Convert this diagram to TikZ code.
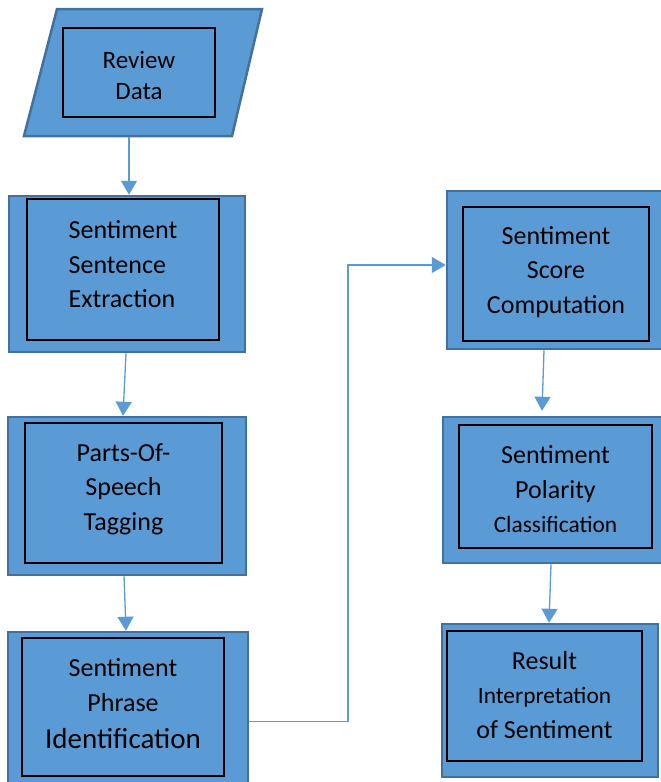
\documentclass[tikz,border=0pt]{standalone}
\usepackage{fontspec}
\setmainfont{Carlito}
\usetikzlibrary{positioning, arrows.meta}
\definecolor{xblue}{HTML}{5B9BD5}
\definecolor{xblueline}{HTML}{41719C}
\tikzset{
	outerbox/.style={draw=xblueline, fill=xblue, line width=2.5pt, inner sep=0pt},
	innerbox/.style={draw=black, line width=1.2pt, inner sep=0pt},
	steptext/.style={align=center, inner sep=0pt, font=\fontsize{26}{34.5}\selectfont},
	flow/.style={draw=xblue, line width=1.3pt, -{Triangle[width=16pt,length=14pt]}},
}

\begin{document}
\begin{tikzpicture}[x=1pt, y=-1pt]
	\useasboundingbox (0,0) rectangle (661,782);
	% left column
	\draw[outerbox, line join=miter] (24,136) -- (232,136) -- (262,9) -- (57,9) -- cycle;
	\coordinate (reviewbase) at (129,137);
	\node[innerbox, minimum width=152pt, minimum height=89pt] (reviewin) at (139,72.5) {};
	\node[steptext, font=\fontsize{25}{31}\selectfont] (reviewtxt) at (139,75) {Review\\Data};
	\node[outerbox, minimum width=236pt, minimum height=156pt] (extract) at (127,274) {};
	\node[innerbox, minimum width=192pt, minimum height=141pt] (extractin) at (123,269.5) {};
	\node[steptext, align=left] (extracttxt) at (123,264.5) {Sentiment\\Sentence\\Extraction};
	\node[outerbox, minimum width=238pt, minimum height=158pt] (tagging) at (127,496) {};
	\node[innerbox, minimum width=197pt, minimum height=140pt] (taggingin) at (123.5,493) {};
	\node[steptext] (taggingtxt) at (123.5,489) {Parts-Of-\\Speech\\Tagging};
	\node[outerbox, minimum width=240pt, minimum height=152pt] (phrase) at (128,708) {};
	\node[innerbox, minimum width=202pt, minimum height=138pt] (phrasein) at (123,707) {};
	\node[steptext] (phrasetxt) at (123,704) {Sentiment\\Phrase\\[3pt]{\fontsize{29}{35}\selectfont Identification}};
	% right column
	\node[outerbox, minimum width=216pt, minimum height=158pt] (score) at (555,270) {};
	\node[innerbox, minimum width=186pt, minimum height=134pt] (scorein) at (556,274) {};
	\node[steptext] (scoretxt) at (556,272) {Sentiment\\Score\\Computation};
	\node[outerbox, minimum width=220pt, minimum height=146pt] (polarity) at (553,490) {};
	\node[innerbox, minimum width=193pt, minimum height=123pt] (polarityin) at (555.5,486.5) {};
	\node[steptext] (polaritytxt) at (555.5,489.5) {Sentiment\\Polarity\\{\fontsize{23.4}{34}\selectfont Classification}};
	\node[outerbox, minimum width=216pt, minimum height=153pt] (result) at (550,700.5) {};
	\node[innerbox, minimum width=195pt, minimum height=130pt] (resultin) at (544.5,696) {};
	\node[steptext] (resulttxt) at (544.5,695) {Result\\{\fontsize{23.4}{33}\selectfont Interpretation}\\of Sentiment};
	% connectors
	\coordinate (bend) at (348,400);
	\draw[flow] (reviewbase) -- (reviewbase |- extract.north);
	\draw[flow] ([xshift=-1pt]extract.south) -- ([xshift=-4pt]tagging.north);
	\draw[flow] ([xshift=-3pt]tagging.south) -- ([xshift=-2pt]phrase.north);
	\draw[flow] ([yshift=-13.5pt]phrase.east) -| (bend) |- ([yshift=5pt]score.west);
	\draw[flow] ([xshift=-11pt]score.south) -- ([xshift=-11pt, yshift=5pt]polarity.north);
	\draw[flow] ([xshift=-2pt]polarity.south) -- ([xshift=-1pt]result.north);
\end{tikzpicture}
\end{document}
